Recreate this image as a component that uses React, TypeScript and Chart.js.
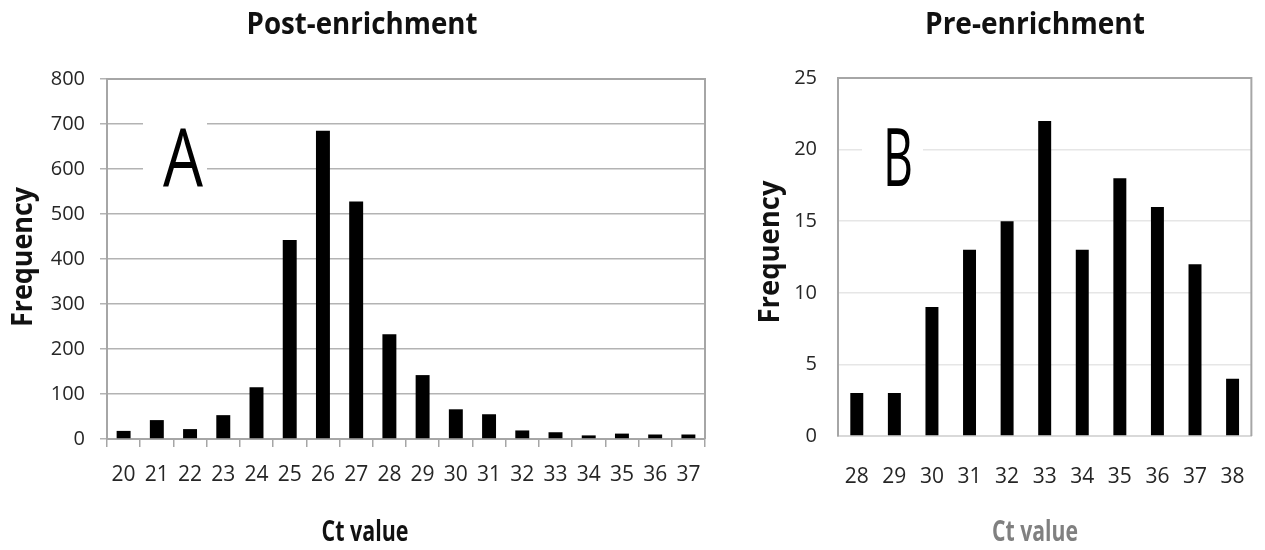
import React, { useEffect, useRef } from 'react';
import { Chart, registerables } from 'chart.js';

Chart.register(...registerables);

const FONT = "'Open Sans', sans-serif";

// Panel A: Post-enrichment
const postTitle = 'Post-enrichment';
const postLabels = ['20', '21', '22', '23', '24', '25', '26', '27', '28', '29', '30', '31', '32', '33', '34', '35', '36', '37'];
const postValues = [18, 42, 22, 53, 115, 442, 685, 528, 233, 142, 66, 55, 19, 15, 8, 12, 10, 10];
const postYMax = 800;
const postYStep = 100;

// Panel B: Pre-enrichment
const preTitle = 'Pre-enrichment';
const preLabels = ['28', '29', '30', '31', '32', '33', '34', '35', '36', '37', '38'];
const preValues = [3, 3, 9, 13, 15, 22, 13, 18, 16, 12, 4];
const preYMax = 25;
const preYStep = 5;

const xTitle = 'Ct value';
const yTitle = 'Frequency';

type TextItem = {
  text: string;
  x: number;
  y: number;
  size: number;
  weight: string;
  color: string;
  width?: number;
  rotate?: boolean;
  box?: [number, number, number, number];
};

const textPlugin = {
  id: 'overlayTexts',
  afterDraw(chart: any, _args: any, opts: any) {
    const ctx = chart.ctx as CanvasRenderingContext2D;
    const items: TextItem[] = (opts && opts.items) || [];
    for (const it of items) {
      ctx.save();
      if (it.box) {
        ctx.fillStyle = '#ffffff';
        ctx.fillRect(it.box[0], it.box[1], it.box[2], it.box[3]);
      }
      ctx.font = `${it.weight} ${it.size}px ${FONT}`;
      ctx.fillStyle = it.color;
      ctx.textAlign = 'center';
      ctx.textBaseline = it.rotate ? 'middle' : 'alphabetic';
      const w = ctx.measureText(it.text).width;
      const sx = it.width ? it.width / w : 1;
      ctx.translate(it.x, it.y);
      if (it.rotate) ctx.rotate(-Math.PI / 2);
      ctx.scale(sx, 1);
      ctx.fillText(it.text, 0, 0);
      ctx.restore();
    }
  },
};

const framePlugin = {
  id: 'frame',
  beforeDatasetsDraw(chart: any, _args: any, opts: any) {
    const ctx = chart.ctx as CanvasRenderingContext2D;
    const { left, right, top, bottom } = chart.chartArea;
    ctx.save();
    ctx.strokeStyle = opts.color || '#a6a6a6';
    ctx.lineWidth = opts.width || 2;
    ctx.beginPath();
    ctx.moveTo(left, top);
    ctx.lineTo(right, top);
    ctx.lineTo(right, bottom);
    ctx.stroke();
    ctx.restore();
  },
};

function makePostConfig(): any {
  return {
    type: 'bar',
    data: {
      labels: postLabels,
      datasets: [
        {
          data: postValues,
          backgroundColor: '#000000',
          borderWidth: 0,
          barPercentage: 0.42,
          categoryPercentage: 1,
        },
      ],
    },
    plugins: [framePlugin, textPlugin],
    options: {
      responsive: false,
      animation: false,
      events: [],
      layout: { padding: { left: 0, top: 79, right: 25, bottom: 0 } },
      plugins: {
        legend: { display: false },
        tooltip: { enabled: false },
        title: { display: false },
        frame: { color: '#a6a6a6', width: 2 },
        overlayTexts: {
          items: [
            { text: postTitle, x: 362, y: 34, size: 30, weight: 'bold', color: '#111111', width: 231 },
            { text: yTitle, x: 24, y: 257, size: 28, weight: 'bold', color: '#111111', width: 140, rotate: true },
            { text: xTitle, x: 365, y: 541, size: 28, weight: 'bold', color: '#111111', width: 87 },
            { text: 'A', x: 183, y: 186, size: 81, weight: '500', color: '#000000', width: 40, box: [143, 100, 64, 92] },
          ],
        },
      },
      scales: {
        x: {
          offset: true,
          grid: {
            display: true,
            offset: true,
            drawOnChartArea: false,
            drawTicks: true,
            tickLength: 8,
            color: '#a6a6a6',
            lineWidth: 1.5,
          },
          border: { display: true, color: '#a6a6a6', width: 2 },
          ticks: {
            color: '#262626',
            font: { family: FONT, size: 21 },
            padding: 15,
            maxRotation: 0,
            autoSkip: false,
          },
          afterFit: (s: any) => {
            s.height = 111;
          },
        },
        y: {
          min: 0,
          max: postYMax,
          ticks: {
            stepSize: postYStep,
            color: '#262626',
            font: { family: FONT, size: 20 },
            padding: 15,
          },
          grid: { color: '#b3b3b3', lineWidth: 1.5, tickLength: 7, drawTicks: true },
          border: { display: true, color: '#a6a6a6', width: 2 },
          afterFit: (s: any) => {
            s.width = 107;
          },
        },
      },
    },
  };
}

function makePreConfig(): any {
  return {
    type: 'bar',
    data: {
      labels: preLabels,
      datasets: [
        {
          data: preValues,
          backgroundColor: '#000000',
          borderWidth: 0,
          barPercentage: 0.345,
          categoryPercentage: 1,
        },
      ],
    },
    plugins: [framePlugin, textPlugin],
    options: {
      responsive: false,
      animation: false,
      events: [],
      layout: { padding: { left: 0, top: 78, right: 9, bottom: 0 } },
      plugins: {
        legend: { display: false },
        tooltip: { enabled: false },
        title: { display: false },
        frame: { color: '#a6a6a6', width: 2 },
        overlayTexts: {
          items: [
            { text: preTitle, x: 295, y: 34, size: 30, weight: 'bold', color: '#111111', width: 220 },
            { text: yTitle, x: 31, y: 252, size: 28, weight: 'bold', color: '#111111', width: 143, rotate: true },
            { text: xTitle, x: 295, y: 541, size: 28, weight: 'bold', color: '#808080', width: 86 },
            { text: 'B', x: 158, y: 186, size: 81, weight: '500', color: '#000000', width: 30, box: [122, 100, 61, 92] },
          ],
        },
      },
      scales: {
        x: {
          offset: true,
          grid: { display: false },
          border: { display: true, color: '#d9d9d9', width: 2 },
          ticks: {
            color: '#262626',
            font: { family: FONT, size: 21 },
            padding: 20,
            maxRotation: 0,
            autoSkip: false,
          },
          afterFit: (s: any) => {
            s.height = 114;
          },
        },
        y: {
          min: 0,
          max: preYMax,
          ticks: {
            stepSize: preYStep,
            color: '#262626',
            font: { family: FONT, size: 20 },
            padding: 21,
          },
          grid: { color: '#e6e6e6', lineWidth: 1.5, drawTicks: false },
          border: { display: true, color: '#a6a6a6', width: 2 },
          afterFit: (s: any) => {
            s.width = 98;
          },
        },
      },
    },
  };
}

function ChartCanvas({ config, width, height, left }: { config: () => any; width: number; height: number; left: number }) {
  const ref = useRef<HTMLCanvasElement | null>(null);
  useEffect(() => {
    if (!ref.current) return;
    const chart = new Chart(ref.current, config());
    return () => chart.destroy();
  }, [config]);
  return (
    <canvas
      ref={ref}
      width={width}
      height={height}
      style={{ position: 'absolute', left, top: 0, width, height, display: 'block' }}
    />
  );
}

export default function App() {
  return (
    <div
      style={{
        position: 'fixed',
        left: 0,
        top: 0,
        width: 1265,
        height: 550,
        background: '#ffffff',
        overflow: 'hidden',
      }}
    >
      <ChartCanvas config={makePostConfig} width={730} height={550} left={0} />
      <ChartCanvas config={makePreConfig} width={525} height={550} left={740} />
    </div>
  );
}
